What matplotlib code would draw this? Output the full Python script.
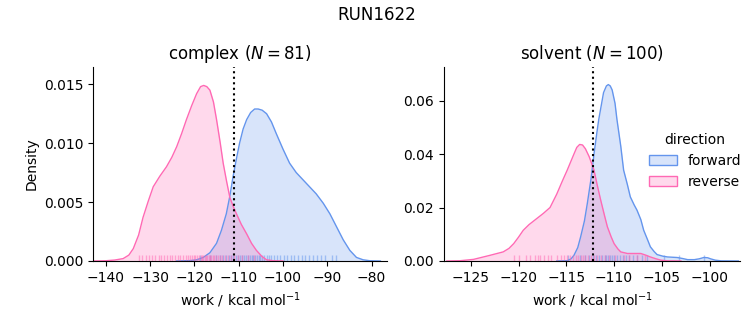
import numpy as np
import matplotlib.pyplot as plt
from matplotlib.patches import Patch
from matplotlib.colors import to_rgb

# colours used for the two directions
fwd_color = 'cornflowerblue'
rev_color = 'hotpink'

# complex leg, density curves
cpx_rev_x = [-143, -140, -138, -136.1, -134.8, -133.8, -132.6, -131.6, -130.4, -129.3, -127.8,
             -126.3, -125.1, -124.0, -122.9, -121.8, -120.6, -119.5, -118.6, -117.9, -117.2,
             -116.5, -115.7, -115.0, -114.2, -113.5, -112.7, -112.0, -111.2, -110.5, -109.4,
             -108.2, -107.1, -106.0, -104.8, -103.7, -102.2, -100]
cpx_rev_y = [0, 0.00002, 0.00008, 0.0002, 0.0005, 0.00105, 0.0022, 0.0037, 0.0051, 0.0063, 0.0072,
             0.0080, 0.0088, 0.0097, 0.0108, 0.0120, 0.0132, 0.0142, 0.0148, 0.0149, 0.0148,
             0.0145, 0.0135, 0.0120, 0.0101, 0.0083, 0.0067, 0.0054, 0.0046, 0.0040, 0.0031,
             0.0023, 0.0015, 0.0009, 0.0004, 0.0001, 0.00002, 0]

cpx_fwd_x = [-124, -121.0, -119.5, -118.0, -116.5, -115.0, -113.9, -112.8, -112.0, -111.3, -110.5,
             -109.8, -109.0, -108.2, -107.3, -106.4, -105.6, -104.7, -103.7, -102.6, -101.5,
             -100.0, -98.5, -97.0, -95.5, -94.0, -92.5, -90.9, -89.4, -87.9, -86.4, -84.9,
             -83.4, -81.9, -80.4, -78]
cpx_fwd_y = [0, 0.00003, 0.0001, 0.0003, 0.0007, 0.0015, 0.0026, 0.0040, 0.0055, 0.0071, 0.0087,
             0.0100, 0.0112, 0.0120, 0.0126, 0.0129, 0.0129, 0.0128, 0.0125, 0.0118, 0.0108,
             0.0095, 0.0083, 0.0075, 0.0069, 0.0063, 0.0057, 0.0049, 0.0040, 0.0029, 0.0018,
             0.0009, 0.0003, 0.0001, 0.00002, 0]

# solvent leg
slv_rev_x = [-127.5, -126.1, -124.7, -123.0, -121.6, -121.0, -120.5, -120.0, -119.5, -118.9,
             -118.4, -117.9, -117.4, -116.7, -116.0, -115.4, -114.9, -114.2, -113.9, -113.6,
             -113.3, -113.0, -112.6, -112.1, -111.8, -111.4, -111.0, -110.7, -110.3, -110.0,
             -109.6, -109.3, -108.6, -107.9, -107.2, -106.7, -106.2, -105.6, -105.1, -104.4, -103]
slv_rev_y = [0, 0.0001, 0.0006, 0.0021, 0.0034, 0.0047, 0.0065, 0.0089, 0.0115, 0.0136,
             0.0150, 0.0164, 0.0178, 0.0200, 0.0250, 0.0300, 0.0340, 0.0400, 0.0425, 0.0436,
             0.0434, 0.0420, 0.0390, 0.0340, 0.0290, 0.0228, 0.0170, 0.0128, 0.0090, 0.0065,
             0.0045, 0.0034, 0.0028, 0.0028, 0.0028, 0.0022, 0.0015, 0.0008, 0.0003, 0.00005, 0]

slv_fwd_x = [-116, -114.9, -114.5, -114.2, -113.8, -113.5, -113.1, -112.8, -112.4, -112.1,
             -111.8, -111.6, -111.3, -111.1, -110.8, -110.6, -110.4, -110.2, -109.9, -109.7,
             -109.3, -109.0, -108.6, -108.3, -107.9, -107.6, -107.2, -106.9, -106.5, -106.2,
             -105.8, -105.5, -104.9, -104.4, -103.9, -103.4, -102.8, -102.3, -101.6, -101.1,
             -100.6, -100.2, -99.9, -99.4, -98.8, -97]
slv_fwd_y = [0, 0.0001, 0.0008, 0.0021, 0.0050, 0.0090, 0.0150, 0.0215, 0.0310, 0.0400,
             0.0480, 0.0530, 0.0590, 0.0630, 0.0655, 0.0660, 0.0655, 0.0640, 0.0590, 0.0530,
             0.0430, 0.0340, 0.0285, 0.0240, 0.0210, 0.0190, 0.0155, 0.0115, 0.0080, 0.0053,
             0.0035, 0.0024, 0.0018, 0.0015, 0.0014, 0.0013, 0.0009, 0.0005, 0.0005, 0.0008,
             0.0013, 0.0012, 0.0008, 0.0003, 0.00005, 0]

# individual work values (rug ticks)
cpx_rev_w = [-132.4, -131.8, -130.9, -130.2, -129.5, -128.9, -128.1, -127.5, -126.8, -126.2,
             -125.6, -125.1, -124.3, -123.8, -123.2, -122.6, -122.0, -121.5, -121.1, -120.6,
             -120.2, -119.8, -119.4, -119.0, -118.6, -118.3, -118.0, -117.7, -117.4, -117.1,
             -116.8, -116.5, -116.2, -115.9, -115.5, -115.1, -114.6, -114.2, -113.7, -113.1,
             -112.4, -111.8, -111.0, -110.1, -109.2, -108.0, -106.5]
cpx_fwd_w = [-118.8, -116.5, -115.2, -114.3, -113.5, -112.9, -112.3, -111.8, -111.2, -110.7,
             -110.2, -109.7, -109.2, -108.8, -108.3, -107.9, -107.5, -107.1, -106.7, -106.3,
             -105.9, -105.5, -105.1, -104.7, -104.2, -103.7, -103.2, -102.6, -102.0, -101.3,
             -100.6, -99.8, -99.0, -98.2, -97.4, -96.6, -95.8, -95.0, -94.1, -93.2, -92.3,
             -91.4, -90.4, -88.9, -88.1]
slv_rev_w = [-120.5, -120.0, -119.2, -118.8, -118.3, -118.0, -117.7, -117.3, -116.9, -116.6,
             -116.0, -115.6, -115.2, -114.9, -114.6, -114.3, -114.0, -113.8, -113.5, -113.3,
             -113.0, -112.7, -112.4, -112.1, -111.8, -111.4, -111.0, -110.5, -109.9, -109.0,
             -108.4, -107.6, -106.8]
slv_fwd_w = [-114.8, -113.6, -113.0, -112.6, -112.2, -111.9, -111.6, -111.3, -111.0, -110.8,
             -110.6, -110.4, -110.2, -110.0, -109.7, -109.4, -109.1, -108.8, -108.4, -108.0,
             -107.6, -107.1, -106.6, -104.8, -103.2, -100.6]

# free energy estimates (dotted lines)
cpx_dg = -111.1
slv_dg = -112.2

panels = [
    ('complex ($N=81$)', cpx_fwd_x, cpx_fwd_y, cpx_rev_x, cpx_rev_y, cpx_fwd_w, cpx_rev_w, cpx_dg,
     (-142.9, -76.5), (0, 0.01647), [-140, -130, -120, -110, -100, -90, -80], [0, 0.005, 0.010, 0.015]),
    ('solvent ($N=100$)', slv_fwd_x, slv_fwd_y, slv_rev_x, slv_rev_y, slv_fwd_w, slv_rev_w, slv_dg,
     (-127.8, -96.8), (0, 0.0726), [-125, -120, -115, -110, -105, -100], [0, 0.02, 0.04, 0.06]),
]

fig = plt.figure(figsize=(7.53, 3.25), dpi=100)
ax1 = fig.add_axes([0.1235, 0.197, 0.3905, 0.597])
ax2 = fig.add_axes([0.5896, 0.197, 0.3934, 0.597])

for ax, p in zip([ax1, ax2], panels):
    title, fx, fy, rx, ry, fw, rw, dg, xl, yl, xt, yt = p
    for x, y, w, c in [(fx, fy, fw, fwd_color), (rx, ry, rw, rev_color)]:
        ax.fill_between(x, y, color=c, alpha=0.25, lw=0)
        ax.plot(x, y, color=c, lw=1)
        ax.vlines(w, 0, 0.03, color=c, alpha=0.5, lw=1, transform=ax.get_xaxis_transform())
    ax.axvline(dg, color='black', ls=':', lw=1.5)
    ax.set_xlim(xl)
    ax.set_ylim(yl)
    ax.set_xticks(xt)
    ax.set_yticks(yt)
    ax.set_title(title)
    ax.set_xlabel('work / kcal mol$^{-1}$')
    ax.spines['top'].set_visible(False)
    ax.spines['right'].set_visible(False)

ax1.set_yticklabels(['0.000', '0.005', '0.010', '0.015'])
ax2.set_yticklabels(['0.00', '0.02', '0.04', '0.06'])
ax1.set_ylabel('Density')

handles = [Patch(facecolor=(*to_rgb(fwd_color), 0.25), edgecolor=fwd_color),
           Patch(facecolor=(*to_rgb(rev_color), 0.25), edgecolor=rev_color)]
fig.legend(handles, ['forward', 'reverse'], title='direction', frameon=False,
           loc='center left', bbox_to_anchor=(0.845, 0.505))

fig.suptitle('RUN1622', fontsize=12)
fig.savefig('out.png', dpi=100)
